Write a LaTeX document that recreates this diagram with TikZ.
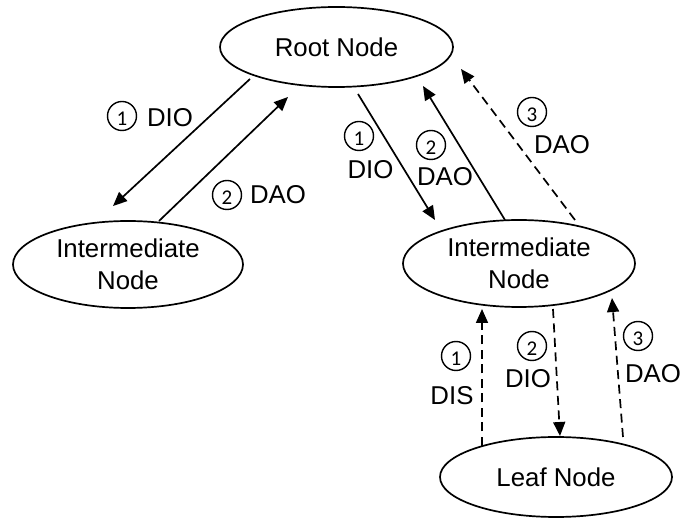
\documentclass[tikz,border=0pt]{standalone}
\usepackage{fontspec}
\setmainfont{Liberation Sans}
\newfontfamily\numfont{Carlito}
\usetikzlibrary{shapes.geometric,arrows.meta}
\begin{document}
\begin{tikzpicture}[x=1pt,y=-1pt,
  nodeshape/.style={ellipse,draw,line width=1.7pt,inner sep=0pt,outer sep=0pt,
    font=\fontsize{25.8}{31.5}\selectfont,align=center},
  num/.style={circle,draw,line width=1.4pt,minimum size=29pt,inner sep=0pt,
    text height=18.2pt,text depth=0pt,font=\numfont\fontsize{21}{21}\selectfont},
  lbl/.style={inner sep=0pt,font=\fontsize{25.8}{30}\selectfont},
  arr/.style={line width=1.7pt,-{Triangle[length=14pt,width=12pt]}},
  darr/.style={arr,dash pattern=on 9pt off 5.5pt}]
\useasboundingbox (0,0) rectangle (681,518);

% nodes
\node[nodeshape,minimum width=233pt,minimum height=80pt] (root) at (336.5,47) {Root Node};
\node[nodeshape,minimum width=230pt,minimum height=87pt] (inl) at (128,264.5) {Intermediate\\Node};
\node[nodeshape,minimum width=232pt,minimum height=87pt] (inr) at (519,263.5) {Intermediate\\Node};
\node[nodeshape,minimum width=232pt,minimum height=80pt] (leaf) at (556,477) {Leaf Node};

% connectors root <-> left
\draw[arr] ([shift={(-86.5,32)}]root.center) -- ([shift={(-15,-58.5)}]inl.center);
\draw[arr] ([shift={(31,-43.5)}]inl.center) -- ([shift={(-48.5,50)}]root.center);
% connectors root <-> right
\draw[arr] ([shift={(21.5,47)}]root.center) -- ([shift={(-84,-43.5)}]inr.center);
\draw[arr] ([shift={(-14,-43.5)}]inr.center) -- ([shift={(86.5,39)}]root.center);
\draw[darr] ([shift={(56,-43.5)}]inr.center) -- ([shift={(124.5,22)}]root.center);
% connectors right <-> leaf
\draw[darr] ([shift={(-74,-31)}]leaf.center) -- ([shift={(-37,45.5)}]inr.center);
\draw[darr] ([shift={(34,45.5)}]inr.center) -- ([shift={(4,-41)}]leaf.center);
\draw[darr] ([shift={(67,-40)}]leaf.center) -- ([shift={(93,34.5)}]inr.center);

% labels
\node[num] (c1) at (122,116) {1};
\node[lbl] (t1) at (170,118) {DIO};
\node[num] (c2) at (227,195) {2};
\node[lbl] (t2) at (278,195) {DAO};
\node[num] (c3) at (359,136) {1};
\node[lbl] (t3) at (370.5,170) {DIO};
\node[num] (c4) at (431,145) {2};
\node[lbl] (t4) at (445,177) {DAO};
\node[num] (c5) at (532,112) {3};
\node[lbl] (t5) at (562,145) {DAO};
\node[num] (c6) at (456,356) {1};
\node[lbl] (t6) at (452,396) {DIS};
\node[num] (c7) at (532,346) {2};
\node[lbl] (t7) at (528,379) {DIO};
\node[num] (c8) at (638,336) {3};
\node[lbl] (t8) at (653,374) {DAO};
\end{tikzpicture}
\end{document}
